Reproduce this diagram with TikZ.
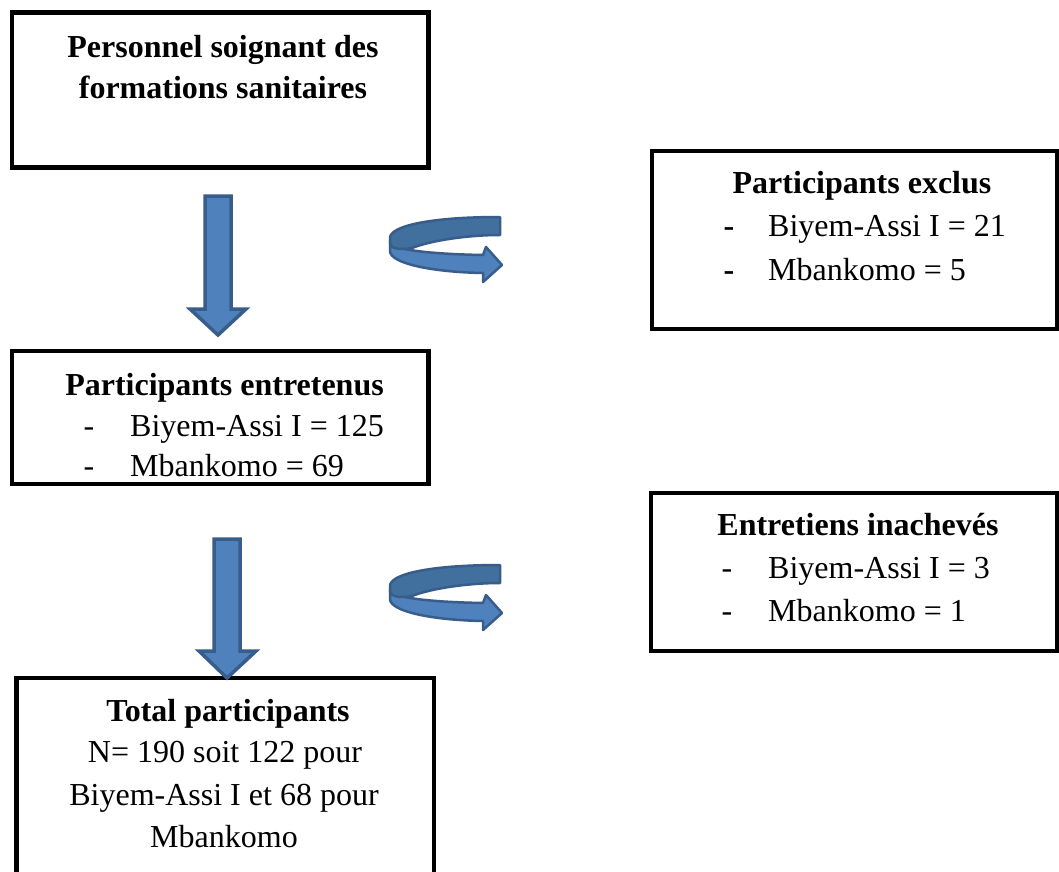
\documentclass[tikz,border=0pt]{standalone}
\usepackage{fontspec}
\setmainfont{Liberation Serif}
\definecolor{arrfill}{HTML}{4F81BD}
\definecolor{arrback}{HTML}{41709F}
\definecolor{arrline}{HTML}{385D8A}
\begin{document}
\begin{tikzpicture}[x=1pt,y=-1pt]
\tikzset{
 box/.style={draw=black, line width=4.5pt, inner sep=0pt, rectangle},
 ttl/.style={font=\fontsize{32}{41}\selectfont\bfseries, anchor=base, inner sep=0pt},
 txt/.style={font=\fontsize{32}{41}\selectfont, anchor=base, inner sep=0pt},
 txtl/.style={txt, anchor=base west},
 blockarrow/.style={fill=arrfill, draw=arrline, line width=3.5pt, line join=miter},
 uband/.style={draw=arrline, line width=2.5pt, line join=round},
 uturn/.pic={
   \path[uband, fill=arrfill] (390,240) -- (390,251) .. controls (390,263) and (430,272) .. (483,273)
      -- (483,282) -- (502,265) -- (486,247) -- (483,255)
      .. controls (430,254) and (398,250) .. (392,244) -- cycle;
   \path[uband, fill=arrback] (500,217) .. controls (430,217) and (390,226) .. (390,238)
      -- (390,244) .. controls (392,249) and (400,250) .. (412,248)
      .. controls (432,240) and (470,235) .. (500,235) -- cycle;
 }
}
\clip (0,0) rectangle (1059,871);
\fill[white] (0,0) rectangle (1059,871);

% boxes
\node[box, minimum width=416.5pt, minimum height=155pt] (perso) at (220,90) {};
\node[box, minimum width=405pt, minimum height=178pt] (exclus) at (854.5,240) {};
\node[box, minimum width=416.5pt, minimum height=133pt] (entre) at (220.25,417.5) {};
\node[box, minimum width=406pt, minimum height=158pt] (inach) at (854,572) {};
\node[box, minimum width=417.5pt, minimum height=222pt] (total) at (225.25,789) {};

% texts
\node[ttl] (t1a) at (223,57) {Personnel soignant des};
\node[ttl] (t1b) at (223,98) {formations sanitaires};

\node[ttl] (t2) at (862,193) {Participants exclus};
\node[txt, font=\fontsize{32}{41}\selectfont\bfseries] (d2a) at (729,236) {-};
\node[txtl] (l2a) at (768,236) {Biyem-Assi I = 21};
\node[txt, font=\fontsize{32}{41}\selectfont\bfseries] (d2b) at (729,280) {-};
\node[txtl] (l2b) at (768,280) {Mbankomo = 5};

\node[ttl] (t3) at (224.5,395) {Participants entretenus};
\node[txt] (d3a) at (89,436) {-};
\node[txtl] (l3a) at (130,436) {Biyem-Assi I = 125};
\node[txt] (d3b) at (89,476) {-};
\node[txtl] (l3b) at (130,476) {Mbankomo = 69};

\node[ttl] (t4) at (858,535) {Entretiens inachevés};
\node[txt] (d4a) at (727,578) {-};
\node[txtl] (l4a) at (768,578) {Biyem-Assi I = 3};
\node[txt] (d4b) at (727,621) {-};
\node[txtl] (l4b) at (768,621) {Mbankomo = 1};

\node[ttl] (t5) at (228,721) {Total participants};
\node[txt] (l5a) at (225,762) {N= 190 soit 122 pour};
\node[txt] (l5b) at (224,805) {Biyem-Assi I et 68 pour};
\node[txt] (l5c) at (224,847) {Mbankomo};

% down block arrows
\path[blockarrow] (205,196) -- (231,196) -- (231,309) -- (246,309) -- (218,335)
   -- (190,309) -- (205,309) -- cycle;
\path[blockarrow] (214,539) -- (240,539) -- (240,651) -- (256,651) -- (227,678)
   -- (199,651) -- (214,651) -- cycle;

% U-turn arrows
\pic at (0,0) {uturn};
\pic at (0,348) {uturn};
\end{tikzpicture}
\end{document}
